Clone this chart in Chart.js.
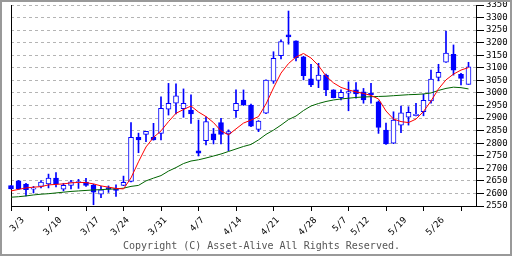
<!DOCTYPE html>
<html>
<head>
<meta charset="utf-8">
<script src="https://cdn.jsdelivr.net/npm/chart.js@4"></script>
<style>
  body { margin: 0; background: #fff; }
  #wrap { position: relative; width: 512px; height: 256px; }
  #marco { position: absolute; left: 0; top: 0; width: 512px; height: 256px; box-sizing: border-box; border: 2px solid #999; pointer-events: none; }
</style>
</head>
<body>
<div id="wrap">
  <canvas id="chart" width="512" height="256"></canvas>
  <div id="marco"></div>
</div>
<script>
// fechas y la barra (dia de bolsa) en que cae cada una
const fechas = ['3/3', '3/10', '3/17', '3/24', '3/31', '4/7', '4/14', '4/21', '4/28', '5/7', '5/12', '5/19', '5/26'];
const posFechas = [0, 5, 10, 14, 19, 24, 29, 34, 39, 43, 46, 51, 56];
// marcas del eje x cada 5 barras
const marcasX = [0, 5, 10, 15, 20, 25, 30, 35, 40, 45, 50, 55, 60];
const nivelesY = [2550, 2600, 2650, 2700, 2750, 2800, 2850, 2900, 2950, 3000, 3050, 3100, 3150, 3200, 3250, 3300, 3350];

const apertura = [2631, 2650, 2637, 2617, 2628, 2638, 2661, 2617, 2632, 2643, 2645, 2633, 2597, 2623, 2619, 2632,
  2648, 2823, 2835, 2823, 2839, 2935, 2959, 2937, 2932, 2770, 2810, 2837, 2882, 2837, 2929, 2972,
  2952, 2855, 2919, 3047, 3148, 3231, 3207, 3144, 3056, 3050, 3071, 3012, 2981, 2999, 3012, 3004,
  2999, 2965, 2852, 2800, 2872, 2904, 2910, 2925, 2968, 3062, 3122, 3154, 3074, 3034];
const maximo = [2631, 2652, 2640, 2628, 2651, 2677, 2683, 2640, 2652, 2656, 2660, 2637, 2628, 2630, 2634, 2669,
  2882, 2840, 2847, 2879, 2985, 3038, 3036, 3016, 2992, 2892, 2905, 2859, 2899, 2853, 3012, 3012,
  2956, 2890, 3052, 3164, 3211, 3326, 3207, 3146, 3114, 3118, 3075, 3013, 3012, 3044, 3041, 3018,
  3038, 2968, 2880, 2925, 2948, 2945, 2959, 2995, 3091, 3114, 3246, 3191, 3078, 3122];
const minimo = [2618, 2616, 2590, 2602, 2622, 2622, 2626, 2610, 2618, 2620, 2628, 2555, 2583, 2604, 2588, 2631,
  2646, 2762, 2806, 2812, 2813, 2912, 2916, 2903, 2879, 2749, 2793, 2797, 2797, 2770, 2903, 2950,
  2866, 2846, 2917, 3038, 3135, 3194, 3127, 3052, 3025, 3021, 2989, 2980, 2972, 2929, 2979, 2959,
  2959, 2839, 2795, 2798, 2842, 2872, 2909, 2909, 2959, 3048, 3121, 3071, 3032, 3034];
const cierre = [2618, 2619, 2615, 2620, 2645, 2661, 2638, 2632, 2646, 2646, 2632, 2605, 2614, 2617, 2612, 2644,
  2823, 2813, 2847, 2813, 2939, 2959, 2988, 2959, 2916, 2760, 2886, 2813, 2835, 2846, 2959, 2952,
  2868, 2888, 3051, 3138, 3204, 3223, 3140, 3069, 3032, 3071, 3012, 2981, 3002, 3005, 2996, 2972,
  2993, 2863, 2797, 2892, 2921, 2923, 2915, 2971, 3055, 3082, 3159, 3091, 3058, 3104];

const mediaCorta = [2610, 2616, 2622, 2625, 2627, 2634, 2636, 2638, 2642, 2644, 2643, 2638, 2630, 2625, 2620, 2618,
  2662, 2726, 2785, 2823, 2849, 2886, 2919, 2934, 2948, 2924, 2906, 2882, 2849, 2833, 2857, 2880,
  2892, 2906, 2956, 3020, 3079, 3117, 3143, 3157, 3139, 3109, 3067, 3040, 3022, 3012, 3004, 2998,
  2990, 2976, 2928, 2896, 2886, 2882, 2896, 2926, 2968, 3016, 3052, 3075, 3091, 3101];
const mediaLarga = [2585, 2587, 2590, 2594, 2597, 2599, 2602, 2605, 2608, 2610, 2612, 2614, 2615, 2617, 2618, 2621,
  2628, 2632, 2650, 2661, 2671, 2689, 2703, 2719, 2729, 2734, 2741, 2749, 2757, 2767, 2777, 2787,
  2795, 2813, 2835, 2852, 2872, 2894, 2908, 2930, 2948, 2958, 2966, 2972, 2976, 2979, 2982, 2984,
  2985, 2986, 2987, 2989, 2991, 2993, 2994, 2996, 3000, 3010, 3018, 3023, 3021, 3016];

const AZUL = '#0000ff';
const fuente = { family: 'DejaVu Sans Mono', size: 9 };

var mechas = [];
var cuerpos = [];
var rellenos = [];
for (let i = 0; i < apertura.length; i++) {
  mechas.push({ x: i, y: [minimo[i], maximo[i]] });
  cuerpos.push({ x: i, y: [apertura[i], cierre[i]] });
  rellenos.push(cierre[i] >= apertura[i] ? '#ffffff' : AZUL);
}

// sin padding extra de las etiquetas giradas, el area queda fija
function sinPadding(s) {
  s.paddingLeft = 0; s.paddingRight = 0; s.paddingTop = 0; s.paddingBottom = 0;
}

new Chart(document.getElementById('chart'), {
  type: 'bar',
  data: {
    datasets: [
      {
        type: 'line', xAxisID: 'x', yAxisID: 'y', order: 0,
        data: mediaCorta.map((v, i) => ({ x: i, y: v })),
        borderColor: '#ff0000', borderWidth: 1, pointRadius: 0, tension: 0
      },
      {
        type: 'line', xAxisID: 'x', yAxisID: 'y', order: 1,
        data: mediaLarga.map((v, i) => ({ x: i, y: v })),
        borderColor: '#006400', borderWidth: 1, pointRadius: 0, tension: 0
      },
      {
        xAxisID: 'x', yAxisID: 'y', order: 2, grouped: false, clip: false,
        data: cuerpos,
        backgroundColor: rellenos, borderColor: AZUL, borderWidth: 1,
        borderSkipped: false, barThickness: 5, minBarLength: 1
      },
      {
        xAxisID: 'x', yAxisID: 'y', order: 3, grouped: false, clip: false,
        data: mechas,
        backgroundColor: AZUL, borderWidth: 0, barThickness: 1
      }
    ]
  },
  options: {
    responsive: false,
    animation: false,
    events: [],
    layout: { padding: { left: 11, top: 5, right: 0, bottom: 0 } },
    plugins: {
      legend: { display: false },
      tooltip: { enabled: false },
      title: {
        display: true,
        position: 'bottom',
        text: 'Copyright (C) Asset-Alive All Rights Reserved.',
        color: '#555',
        font: { family: 'DejaVu Sans Mono', size: 10, weight: 'normal' },
        padding: { top: 0, bottom: 4 }
      }
    },
    scales: {
      // solo las marcas, pegado al area del grafico
      x: {
        type: 'linear', min: 0, max: 62, offset: false, weight: 0,
        afterBuildTicks: s => { s.ticks = marcasX.map(v => ({ value: v })); },
        afterFit: s => { s.height = 0; sinPadding(s); },
        ticks: { autoSkip: false, display: false },
        grid: { offset: false, drawOnChartArea: false, drawTicks: true, tickLength: 5, tickColor: '#000' },
        border: { color: '#000' }
      },
      // las fechas, en su propia barra
      xf: {
        type: 'linear', position: 'bottom', min: 0, max: 62, offset: false, weight: 1,
        afterBuildTicks: s => { s.ticks = posFechas.map(v => ({ value: v })); },
        afterFit: s => { s.height = 34; sinPadding(s); },
        ticks: {
          autoSkip: false, minRotation: 45, maxRotation: 45,
          labelOffset: 12, padding: 9, color: '#000', font: fuente,
          callback: (v, i) => fechas[i]
        },
        grid: { display: false, drawTicks: false },
        border: { display: false }
      },
      y: {
        position: 'right', min: 2550, max: 3350,
        afterBuildTicks: s => { s.ticks = nivelesY.map(v => ({ value: v })); },
        afterFit: s => { s.width = 36; sinPadding(s); },
        ticks: { autoSkip: false, padding: 2, color: '#000', font: fuente, callback: v => String(v) },
        grid: { color: '#b4b4b4', tickColor: '#000', tickLength: 8, tickBorderDash: [] },
        border: { color: '#000', dash: [3, 3] }
      },
      yl: {
        position: 'left', display: true,
        afterFit: s => { s.width = 0; sinPadding(s); },
        ticks: { display: false },
        grid: { drawOnChartArea: false, drawTicks: false },
        border: { color: '#000' }
      }
    }
  }
});
</script>
</body>
</html>
